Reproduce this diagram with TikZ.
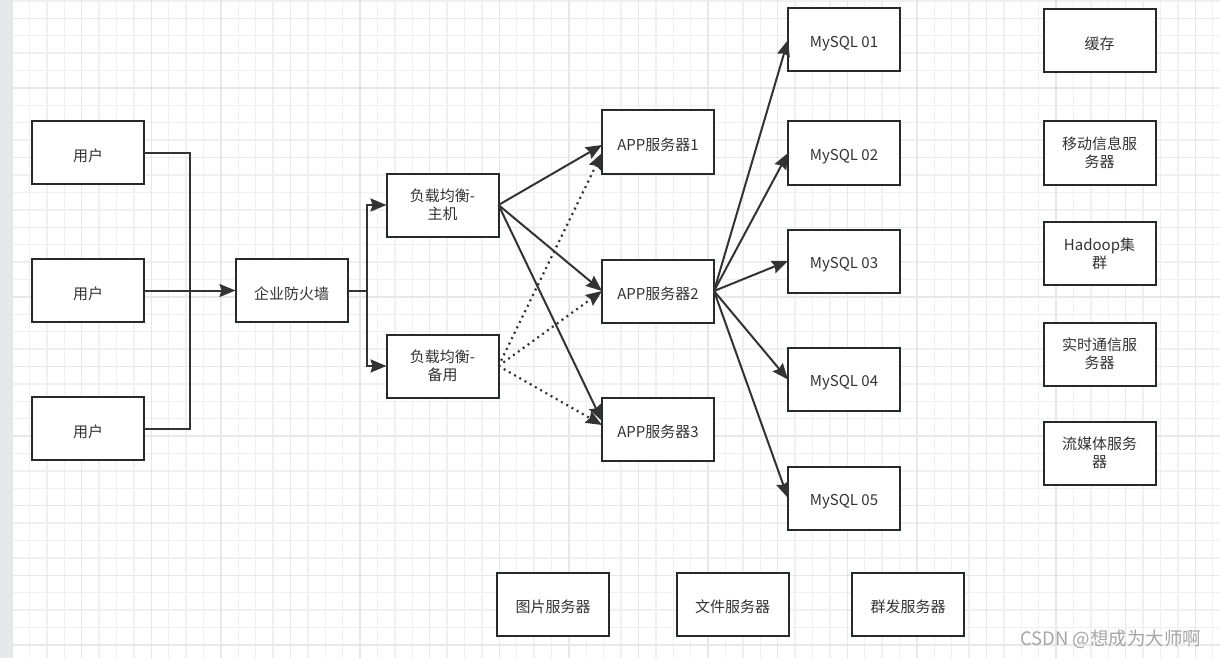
\documentclass[tikz,border=0pt]{standalone}
\usepackage{fontspec}
\setmainfont{Noto Sans CJK SC}
\usetikzlibrary{arrows.meta}
\definecolor{linec}{HTML}{333333}
\definecolor{boxc}{HTML}{262A2E}
\definecolor{gridminor}{HTML}{F0F0F0}
\definecolor{gridmajor}{HTML}{E8E8E8}
\definecolor{sidebar}{HTML}{E7E8EA}
\definecolor{markc}{HTML}{A6A6A6}
\tikzset{
  box/.style={draw=boxc, line width=2pt, fill=white, minimum width=112pt, minimum height=63pt,
    inner sep=0pt, outer sep=0pt, align=center, text=linec,
    font=\fontsize{15pt}{18.3pt}\selectfont, execute at begin node={\rule{0pt}{18.5pt}}},
  link/.style={draw=linec, line width=2pt},
  arrow/.style={link, -{Stealth[length=16pt, width=13pt, inset=2pt]}},
  dotarrow/.style={arrow, dash pattern=on 2pt off 4pt, line width=2.2pt}
}
\begin{document}
\begin{tikzpicture}[x=1pt, y=-1pt]
  \useasboundingbox (0,0) rectangle (1220,658);
  \fill[white] (0,0) rectangle (1220,658);
  % grid
  \foreach \i in {0,...,69} \draw[gridminor, line width=1.4pt] ({12.1+17.4*\i},0) -- ++(0,658);
  \foreach \i in {0,...,37} \draw[gridminor, line width=1.4pt] (0,{1.0+17.4*\i}) -- ++(1220,0);
  \foreach \i in {0,...,17} \draw[gridmajor, line width=1.4pt] ({12.1+69.6*\i},0) -- ++(0,658);
  \foreach \i in {0,...,9} \draw[gridmajor, line width=1.4pt] (0,{18.4+69.6*\i}) -- ++(1220,0);
  \fill[sidebar] (0,0) rectangle (11,658);

  % users and firewall
  \node[box] (user1) at (88,152.5) {用户};
  \node[box] (user2) at (88,290.5) {用户};
  \node[box] (user3) at (88,428.5) {用户};
  \node[box] (fw) at (291.5,290.5) {企业防火墙};
  \node[box] (lbmain) at (442.5,205) {负载均衡-\\主机};
  \node[box] (lbback) at (442.5,366) {负载均衡-\\备用};

  % app servers
  \node[box] (app1) at (658,142) {APP服务器1};
  \node[box] (app2) at (658,291) {APP服务器2};
  \node[box] (app3) at (658,429) {APP服务器3};

  % databases
  \node[box] (mysql1) at (844,40) {MySQL 01};
  \node[box] (mysql2) at (844,153) {MySQL 02};
  \node[box] (mysql3) at (844,261) {MySQL 03};
  \node[box] (mysql4) at (844,379.5) {MySQL 04};
  \node[box] (mysql5) at (844,498) {MySQL 05};

  % other services
  \node[box] (cache) at (1099.5,41) {缓存};
  \node[box] (mobile) at (1099.5,153) {移动信息服\\务器};
  \node[box] (hadoop) at (1099.5,253.5) {Hadoop集\\群};
  \node[box] (rtc) at (1099.5,354) {实时通信服\\务器};
  \node[box] (media) at (1099.5,453) {流媒体服务\\器};
  \node[box] (pic) at (553,604) {图片服务器};
  \node[box] (file) at (732.5,604) {文件服务器};
  \node[box] (mass) at (908,604) {群发服务器};

  \node[text=markc, font=\fontsize{18.5pt}{20pt}\selectfont, anchor=east] (mark) at (1205,639) {CSDN @想成为大师啊};

  % connectors
  \coordinate (ujoin) at (189.5,290.5);
  \coordinate (fjoin) at (367,290.5);
  \draw[link] (user1.east) -| (ujoin) |- (user3.east);
  \draw[arrow] (user2.east) -- (fw.west);
  \draw[arrow] (fw.east) -- (fjoin) |- (lbmain.west);
  \draw[arrow] (fjoin) |- (lbback.west);

  \draw[dotarrow] (lbback.east) -- ([yshift=-11pt]app1.west);
  \draw[dotarrow] (lbback.east) -- (app2.west);
  \draw[dotarrow] (lbback.east) -- ([yshift=4pt]app3.west);
  \draw[arrow] (lbmain.east) -- ([yshift=-3pt]app1.west);
  \draw[arrow] (lbmain.east) -- (app2.west);
  \draw[arrow] (lbmain.east) -- ([yshift=8pt]app3.west);

  \foreach \db in {mysql1,mysql2,mysql3,mysql4,mysql5}
    \draw[arrow] (app2.east) -- (\db.west);
\end{tikzpicture}
\end{document}
